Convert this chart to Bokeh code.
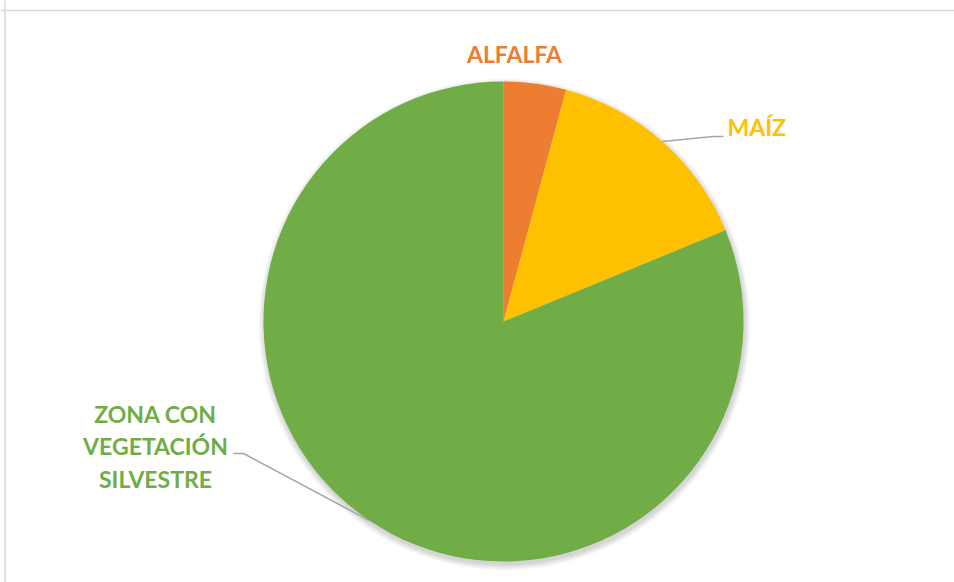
import math
from bokeh.plotting import figure
from bokeh.models import Range1d, Span, ColumnDataSource
from bokeh.core.properties import value
from bokeh.embed import file_html
from bokeh.resources import INLINE

# ---- data ----
categories = ["ALFALFA", "MAÍZ", "ZONA CON VEGETACIÓN SILVESTRE"]
values = [4.2, 14.6, 81.2]
colors = ["#ED7D31", "#FFC000", "#70AD47"]
label_lines = [["ALFALFA"], ["MAÍZ"], ["ZONA CON", "VEGETACIÓN", "SILVESTRE"]]

# ---- layout (screen pixels, y measured from top) ----
W, H = 954, 582
CX, CY_TOP, R = 503, 321, 240
CY = H - CY_TOP

def sy(y_top):
    return H - y_top

# label anchors: (x, first text y from top, align, leader elbow, leader end)
TEXT_SHIFT = -10
label_layout = [
    dict(x=514, y=63, align="center", elbow=None, end=None),
    dict(x=727, y=136, align="left", elbow=(713, 136), end=(723, 136)),
    dict(x=155, y=423, align="center", elbow=(243, 453), end=(233, 453)),
]
LINE_H = 32.5
FONT = "Lato"
FONT_SIZE = "23px"

p = figure(width=W, height=H, x_range=Range1d(0, W), y_range=Range1d(0, H),
           output_backend="svg", toolbar_location=None, min_border=0,
           x_axis_location=None, y_axis_location=None)
p.grid.visible = False
p.outline_line_color = None
p.background_fill_color = "white"
p.border_fill_color = "white"

# chart-area frame (top and left edges visible)
p.add_layout(Span(location=sy(10), dimension="width", line_color="#D9D9D9", line_width=1.5))
p.add_layout(Span(location=4.5, dimension="height", line_color="#D9D9D9", line_width=1.5))

# soft shadow
for k in range(7):
    p.circle(x=CX + 1, y=CY - 3, radius=R + 0.5 + k * 0.9, radius_units="screen",
             fill_color="black", fill_alpha=0.025, line_color=None)

# wedges
total = sum(values)
starts, ends, mids = [], [], []
cum = 0.0
for v in values:
    a0 = math.pi / 2 - 2 * math.pi * cum / total
    a1 = math.pi / 2 - 2 * math.pi * (cum + v) / total
    starts.append(a0)
    ends.append(a1)
    mids.append((a0 + a1) / 2)
    cum += v

src = ColumnDataSource(dict(cat=categories, val=values, color=colors,
                            start=starts, end=ends))
p.wedge(x=CX, y=CY, radius=R, radius_units="screen", start_angle="start",
        end_angle="end", direction="clock", fill_color="color", line_color=None,
        source=src)

# labels and leader lines
for i, lay in enumerate(label_layout):
    for j, line in enumerate(label_lines[i]):
        p.text(x=[lay["x"]], y=[sy(lay["y"] + TEXT_SHIFT + j * LINE_H)], text=[line],
               text_align=lay["align"], text_baseline="alphabetic",
               text_font=value(FONT), text_font_style="bold",
               text_font_size=FONT_SIZE, text_color=colors[i])
    if lay["elbow"] is not None:
        sx0 = CX + R * math.cos(mids[i])
        sy0 = CY + R * math.sin(mids[i])
        ex, ey = lay["elbow"]
        tx, ty = lay["end"]
        p.line(x=[sx0, ex, tx], y=[sy0, sy(ey), sy(ty)], line_color="#A6A6A6",
               line_width=1.5)

open("out.html", "w").write(file_html(p, INLINE))
